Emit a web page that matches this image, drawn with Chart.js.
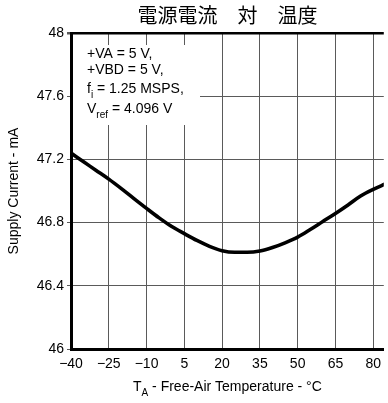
<!DOCTYPE html>
<html><head><meta charset="utf-8">
<script src="https://cdn.jsdelivr.net/npm/chart.js@4/dist/chart.umd.min.js"></script>
<style>html,body{margin:0;padding:0;background:#fff;overflow:hidden}#wrap{position:relative;width:388px;height:403px}</style>
</head><body><div id="wrap"><canvas id="c" width="388" height="403"></canvas></div>
<script>
const temperatures = [-40,-35,-30,-25,-20,-15,-10,-5,0,5,10,15,20,25,30,35,40,45,50,55,60,65,70,75,80,85];
const supplyCurrent = [47.24,47.185,47.13,47.075,47.015,46.952,46.89,46.83,46.775,46.73,46.687,46.65,46.622,46.612,46.612,46.62,46.642,46.672,46.708,46.756,46.807,46.858,46.912,46.968,47.01,47.046];
const xTickValues = [-40,-25,-10,5,20,35,50,65,80];
const yTickValues = [46,46.4,46.8,47.2,47.6,48];
const yTickLabels = ['46','46.4','46.8','47.2','47.6','48'];
const chartTitle = '電源電流　対　温度';
const yAxisTitle = 'Supply Current - mA';
const xAxisTitle = [{t:'T'},{t:'A',sub:true},{t:' - Free-Air Temperature - °C'}];
const conditionLines = [
  [{t:'+VA = 5 V,'}],
  [{t:'+VBD = 5 V,'}],
  [{t:'f'},{t:'i',sub:true},{t:' = 1.25 MSPS,'}],
  [{t:'V'},{t:'ref',sub:true},{t:' = 4.096 V'}]
];
const FONT = '"Liberation Sans", Arial, sans-serif';

function richWidth(ctx, segs, size){
  let w = 0;
  for (const s of segs){ ctx.font = (s.sub? Math.round(size*0.72):size)+'px '+FONT; w += ctx.measureText(s.t).width; }
  return w;
}
function drawRich(ctx, segs, x, y, size){
  let cx = x;
  ctx.textBaseline = 'middle'; ctx.textAlign = 'left'; ctx.fillStyle = '#000';
  for (const s of segs){
    const fs = s.sub? Math.round(size*0.72):size;
    ctx.font = fs+'px '+FONT;
    ctx.fillText(s.t, cx, s.sub? y+size*0.42 : y);
    cx += ctx.measureText(s.t).width;
  }
}

const decor = {
  id:'decor',
  beforeDatasetsDraw(chart){
    const ctx = chart.ctx, a = chart.chartArea;
    ctx.save();
    ctx.fillStyle = '#fff';
    ctx.fillRect(a.left+2, a.top+12, 127, 80);
    const ys = [54,70.5,89,109];
    conditionLines.forEach((l,i)=>drawRich(ctx, l, a.left+16, ys[i], 14));
    ctx.restore();
  },
  afterDraw(chart){
    const ctx = chart.ctx, a = chart.chartArea;
    const cx = (a.left+a.right)/2;
    ctx.save();
    ctx.fillStyle = '#000';
    ctx.textAlign = 'center'; ctx.textBaseline = 'middle';
    ctx.font = '20px "Noto Sans CJK JP", sans-serif';
    ctx.fillText(chartTitle, cx, 15);
    const w = richWidth(ctx, xAxisTitle, 14);
    drawRich(ctx, xAxisTitle, cx - w/2, 387, 14);
    ctx.restore();
  }
};

new Chart(document.getElementById('c'), {
  type:'line',
  data:{ datasets:[{
    data: temperatures.map((t,i)=>({x:t, y:supplyCurrent[i]})),
    borderColor:'#000', borderWidth:3.6, pointRadius:0,
    cubicInterpolationMode:'monotone', fill:false
  }]},
  options:{
    responsive:false, animation:false, devicePixelRatio:1,
    layout:{padding:{top:33,left:0,right:0,bottom:0}},
    plugins:{legend:{display:false}, tooltip:{enabled:false}, title:{display:false}},
    scales:{
      x:{
        type:'linear', min:-40, max:84.2,
        afterBuildTicks(s){ s.ticks = xTickValues.map(v=>({value:v})); },
        afterFit(s){ s.height = 54; },
        grid:{ color:'#5a5a5a', lineWidth:1, drawTicks:false },
        border:{ display:true, color:'#000', width:3 },
        ticks:{ padding:7, color:'#000', font:{family:FONT, size:14}, maxRotation:0, autoSkip:false,
          callback:(v)=> v<0 ? '\u2212'+Math.abs(v) : String(v) }
      },
      y:{
        type:'linear', min:46, max:48,
        afterBuildTicks(s){ s.ticks = yTickValues.map(v=>({value:v})); },
        afterFit(s){ s.width = 71; },
        grid:{
          color:(c)=> c.tick && c.tick.value===48 ? '#000' : '#5a5a5a',
          lineWidth:(c)=> c.tick && c.tick.value===48 ? 2.5 : 1,
          drawTicks:true, tickLength:4, tickColor:'#5a5a5a'
        },
        border:{ display:true, color:'#000', width:3 },
        ticks:{ padding:3, color:'#000', font:{family:FONT, size:14}, autoSkip:false,
          callback:(v)=>{ const i = yTickValues.indexOf(v); return i>=0 ? yTickLabels[i] : ''; } },
        title:{ display:true, text:yAxisTitle, color:'#000', font:{family:FONT, size:14}, padding:{top:6,bottom:0} }
      }
    }
  },
  plugins:[decor]
});
</script></body></html>
